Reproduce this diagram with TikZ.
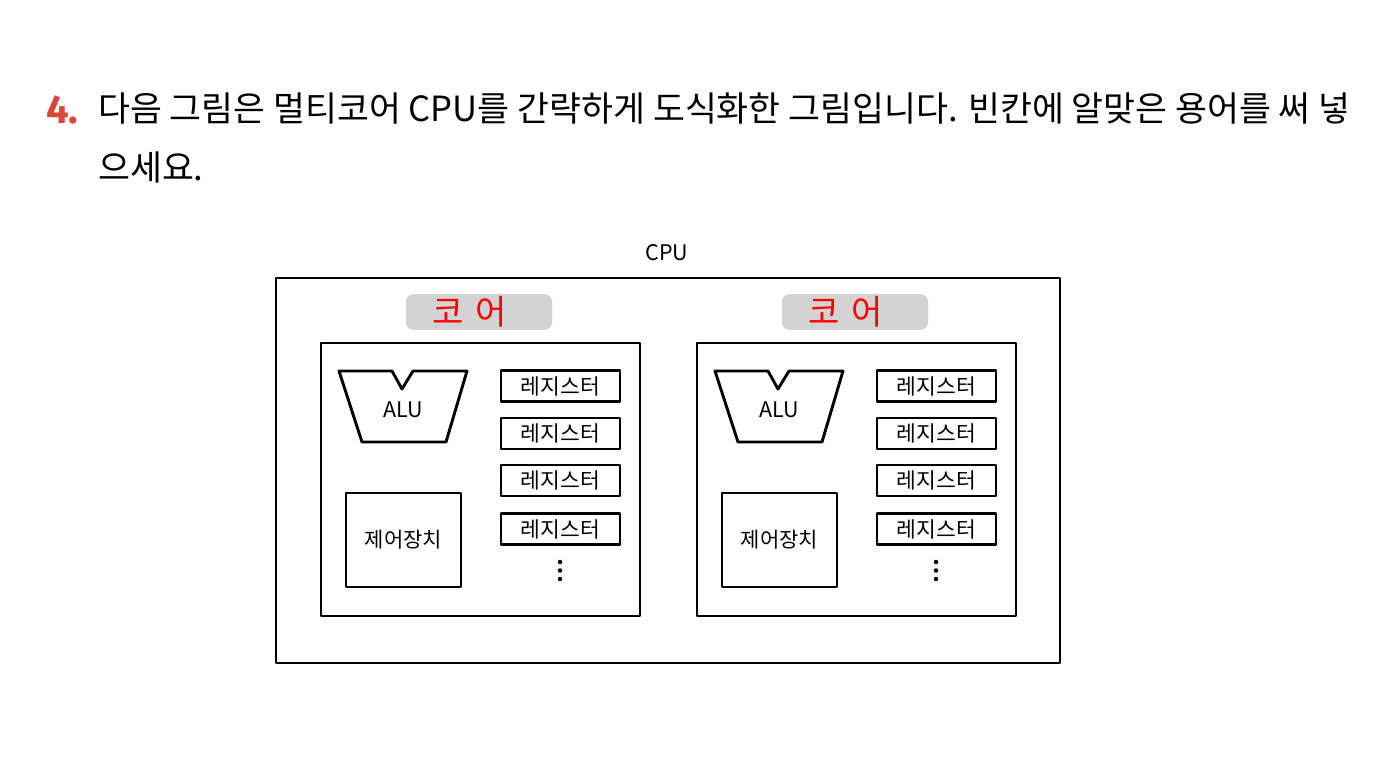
\documentclass[tikz,border=0pt]{standalone}
\usepackage{fontspec}
\newfontfamily\kr{Noto Sans CJK KR}
\newfontfamily\numfont{Fira Sans}
\definecolor{qred}{HTML}{D9483B}
\definecolor{coregray}{HTML}{D3D3D3}
\tikzset{
  sk/.style={draw=black, line width=2.9pt, line join=round},
  cpubox/.style={sk, minimum width=784pt, minimum height=385pt, inner sep=0pt},
  corebox/.style={sk, minimum width=319pt, minimum height=273pt, inner sep=0pt},
  regbox/.style={sk, line width=2.6pt, minimum width=119pt, minimum height=31pt, inner sep=0pt, font=\kr\fontsize{21.5}{23}\selectfont},
  ctlbox/.style={sk, line width=2.6pt, minimum width=115pt, minimum height=94pt, inner sep=0pt, font=\kr\fontsize{21}{23}\selectfont},
  corelabel/.style={fill=coregray, rounded corners=8pt, minimum width=146pt, minimum height=36pt, inner sep=0pt, text=red, font=\kr\fontsize{34}{36}\selectfont},
  lbl/.style={inner sep=0pt, font=\kr\fontsize{21.5}{23}\selectfont},
  dot/.style={circle, fill=black, inner sep=0pt, minimum size=4.5pt},
}
\begin{document}
\begin{tikzpicture}[x=1pt,y=-1pt]
\useasboundingbox (0,0) rectangle (1379,773);
% question text
\node[anchor=base west, inner sep=0pt, text=qred, font=\numfont\bfseries\fontsize{40}{42}\selectfont] (qnum) at (46,124) {4.};
\node[anchor=base west, inner sep=0pt, font=\kr\fontsize{34.7}{37}\selectfont] (q1) at (98,122) {다음 그림은 멀티코어 CPU를 간략하게 도식화한 그림입니다. 빈칸에 알맞은 용어를 써 넣};
\node[anchor=base west, inner sep=0pt, font=\kr\fontsize{34.7}{37}\selectfont] (q2) at (98,180) {으세요.};
% CPU
\node[lbl] (cpulbl) at (667,253) {CPU};
\node[cpubox] (cpu) at (668,470.5) {};
% cores
\foreach \i/\dx in {a/0, b/376} {
  \node[corelabel] (lab\i) at (479+\dx,312) {\hspace*{-18pt}코\hspace{12pt}어};
  \node[corebox] (core\i) at (480.5+\dx,479.5) {};
  \draw[sk] (339+\dx,371) -- (392+\dx,371) -- (402+\dx,389) -- (413+\dx,371) -- (467+\dx,371)
            -- (446+\dx,442) -- (362+\dx,442) -- cycle;
  \node[lbl] (alu\i) at (403+\dx,410) {ALU};
  \node[regbox] (r1\i) at (560.5+\dx,386) {레지스터};
  \node[regbox] (r2\i) at (560.5+\dx,433.5) {레지스터};
  \node[regbox] (r3\i) at (560.5+\dx,480.5) {레지스터};
  \node[regbox] (r4\i) at (560.5+\dx,529) {레지스터};
  \node[dot] (d1\i) at (560+\dx,562) {};
  \node[dot] (d2\i) at (560+\dx,570.5) {};
  \node[dot] (d3\i) at (560+\dx,579) {};
  \node[ctlbox] (ctl\i) at (403.5+\dx,540) {제어장치};
}
\end{tikzpicture}
\end{document}
